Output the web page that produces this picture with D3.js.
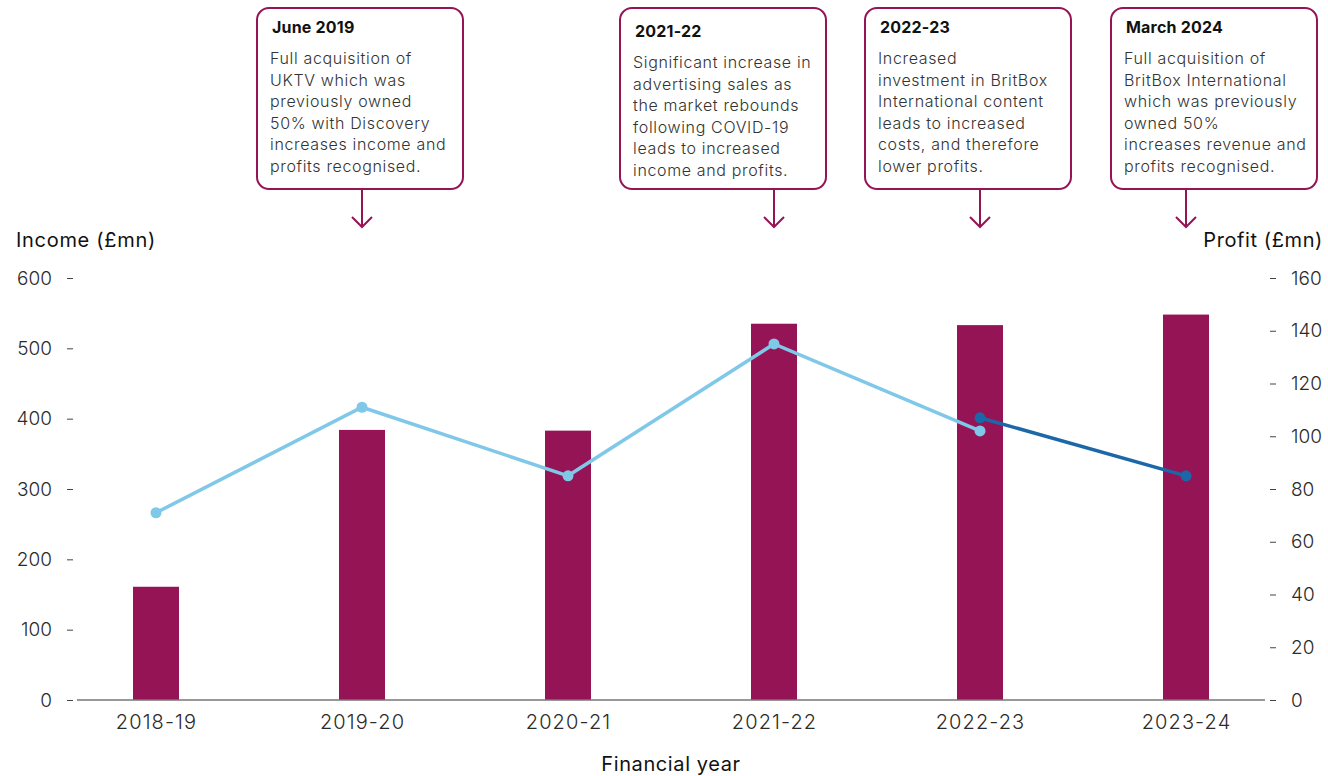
<!DOCTYPE html>
<html>
<head>
<meta charset="utf-8">
<script src="https://cdn.jsdelivr.net/npm/d3@7"></script>
<style>
  html, body { margin: 0; padding: 0; background: #fff; }
  svg { display: block; font-family: Inter, "Liberation Sans", Arial, sans-serif; }
</style>
</head>
<body>
<svg id="chart" width="1328" height="776"></svg>
<script>
// Financial years and values
const years = ["2018-19", "2019-20", "2020-21", "2021-22", "2022-23", "2023-24"];
const income = [161, 384, 383, 535, 533, 548];
// Profit on the original basis (light line)
const profitOld = [71, 111, 85, 135, 102];
// Profit on the restated basis (dark line), 2022-23 onwards
const profitNewYears = ["2022-23", "2023-24"];
const profitNew = [107, 85];

const incomeTicks = [0, 100, 200, 300, 400, 500, 600];
const profitTicks = [0, 20, 40, 60, 80, 100, 120, 140, 160];

// Annotation call-outs
const noteYears = ["2019-20", "2021-22", "2022-23", "2023-24"];
const noteTitles = ["June 2019", "2021-22", "2022-23", "March 2024"];
const noteLines = [
  ["Full acquisition of", "UKTV which was", "previously owned", "50% with Discovery", "increases income and", "profits recognised."],
  ["Significant increase in", "advertising sales as", "the market rebounds", "following COVID-19", "leads to increased", "income and profits."],
  ["Increased", "investment in BritBox", "International content", "leads to increased", "costs, and therefore", "lower profits."],
  ["Full acquisition of", "BritBox International", "which was previously", "owned 50%", "increases revenue and", "profits recognised."]
];
const noteLeft = [257, 620, 865, 1111];
const noteShift = [0, 4, 0, 0];

const BAR = "#951456";
const LIGHT = "#80c8e8";
const DARK = "#1b67a8";
const TEXT = "#2b2b2b";
const FONT = "Inter, Liberation Sans, Arial, sans-serif";

const svg = d3.select("#chart");

const x = d3.scalePoint().domain(years).range([156, 1186]);
const yL = d3.scaleLinear().domain([0, 600]).range([700, 278]);
const yR = d3.scaleLinear().domain([0, 160]).range([700, 278]);
const barW = 46;

// Bars
svg.append("g").selectAll("rect").data(years).join("rect")
  .attr("x", d => x(d) - barW / 2)
  .attr("y", (d, i) => yL(income[i]))
  .attr("width", barW)
  .attr("height", (d, i) => yL(0) - yL(income[i]))
  .attr("fill", BAR);

// Baseline
svg.append("line")
  .attr("x1", 77).attr("x2", 1265)
  .attr("y1", yL(0)).attr("y2", yL(0))
  .attr("stroke", "#777").attr("stroke-width", 1.5);

// Left axis
const leftAxis = d3.axisLeft(yL).tickValues(incomeTicks).tickSize(6).tickPadding(15);
const gL = svg.append("g").attr("transform", "translate(73,0)").call(leftAxis);
gL.select(".domain").remove();
gL.selectAll(".tick line").attr("stroke", "#444").attr("stroke-width", 1);
gL.selectAll(".tick text").attr("fill", TEXT).attr("font-size", 19).attr("font-weight", 300)
  .attr("font-family", FONT);

// Right axis
const rightAxis = d3.axisRight(yR).tickValues(profitTicks).tickSize(6).tickPadding(15);
const gR = svg.append("g").attr("transform", "translate(1270,0)").call(rightAxis);
gR.select(".domain").remove();
gR.selectAll(".tick line").attr("stroke", "#444").attr("stroke-width", 1);
gR.selectAll(".tick text").attr("fill", TEXT).attr("font-size", 19).attr("font-weight", 300)
  .attr("font-family", FONT);

// Bottom axis labels
const bottomAxis = d3.axisBottom(x).tickSize(0).tickPadding(15);
const gB = svg.append("g").attr("transform", `translate(0,${yL(0)})`).call(bottomAxis);
gB.select(".domain").remove();
gB.selectAll(".tick text").attr("fill", TEXT).attr("font-size", 20).attr("font-weight", 300)
  .attr("font-family", FONT).attr("letter-spacing", 1.1);

// Axis titles
svg.append("text").attr("x", 16).attr("y", 247).attr("font-size", 20).attr("fill", "#111")
  .attr("letter-spacing", 0.7).text("Income (£mn)");
svg.append("text").attr("x", 1323).attr("y", 247).attr("text-anchor", "end").attr("font-size", 20).attr("fill", "#111")
  .attr("letter-spacing", 0.6).text("Profit (£mn)");
svg.append("text").attr("x", 671).attr("y", 771).attr("text-anchor", "middle").attr("font-size", 20).attr("fill", "#111")
  .attr("letter-spacing", 0.6).text("Financial year");

// Profit lines
const line = d3.line().x(d => x(d[0])).y(d => yR(d[1]));
const oldPts = profitOld.map((v, i) => [years[i], v]);
const newPts = profitNew.map((v, i) => [profitNewYears[i], v]);

svg.append("path").datum(oldPts).attr("d", line)
  .attr("fill", "none").attr("stroke", LIGHT).attr("stroke-width", 3.5);
svg.append("g").selectAll("circle").data(oldPts).join("circle")
  .attr("cx", d => x(d[0])).attr("cy", d => yR(d[1])).attr("r", 5.5).attr("fill", LIGHT);

svg.append("path").datum(newPts).attr("d", line)
  .attr("fill", "none").attr("stroke", DARK).attr("stroke-width", 3.5);
svg.append("g").selectAll("circle").data(newPts).join("circle")
  .attr("cx", d => x(d[0])).attr("cy", d => yR(d[1])).attr("r", 5.5).attr("fill", DARK);

// Annotation boxes with arrows
const boxW = 206, boxTop = 8, boxBottom = 189, arrowEnd = 227;
noteYears.forEach((yr, i) => {
  const g = svg.append("g");
  const left = noteLeft[i];
  const dy = noteShift[i];
  g.append("rect")
    .attr("x", left).attr("y", boxTop)
    .attr("width", boxW).attr("height", boxBottom - boxTop)
    .attr("rx", 12).attr("ry", 12)
    .attr("fill", "#fff").attr("stroke", BAR).attr("stroke-width", 2);
  const ax = x(yr);
  g.append("line").attr("x1", ax).attr("x2", ax).attr("y1", boxBottom).attr("y2", arrowEnd - 1)
    .attr("stroke", BAR).attr("stroke-width", 2);
  g.append("path")
    .attr("d", `M${ax - 10},${arrowEnd - 10} L${ax},${arrowEnd} L${ax + 10},${arrowEnd - 10}`)
    .attr("fill", "none").attr("stroke", BAR).attr("stroke-width", 2);
  g.append("text").attr("x", left + 15).attr("y", 33 + dy)
    .attr("font-size", 16).attr("font-weight", 700).attr("fill", "#111").attr("letter-spacing", 0.2)
    .text(noteTitles[i]);
  const t = g.append("text").attr("x", left + 13).attr("y", 64 + dy)
    .attr("font-size", 16).attr("font-weight", 300).attr("fill", "#333").attr("letter-spacing", 0.65);
  noteLines[i].forEach((ln, j) => {
    t.append("tspan").attr("x", left + 13).attr("y", 64 + dy + j * 21.5).text(ln);
  });
});
</script>
</body>
</html>
